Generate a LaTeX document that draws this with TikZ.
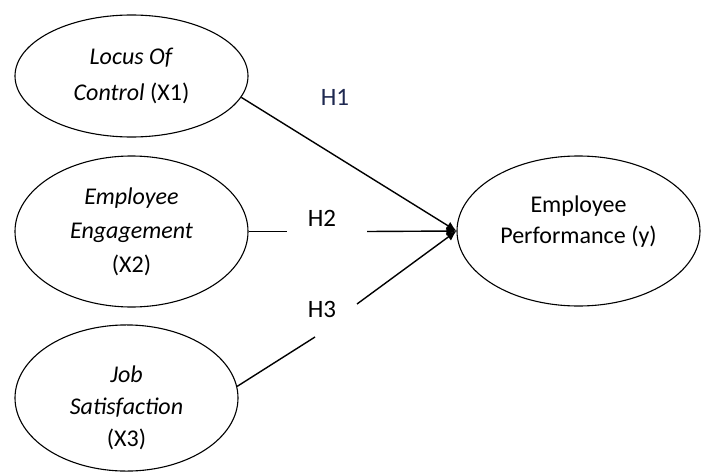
\documentclass[tikz,border=0pt]{standalone}
\usepackage{fontspec}
\setmainfont{Carlito}
\usetikzlibrary{arrows.meta,shapes.geometric}
\definecolor{hnavy}{RGB}{30,40,80}
\begin{document}
\begin{tikzpicture}[x=1pt,y=-1pt,
  latent/.style={ellipse, draw, line width=1.1pt, inner sep=0pt, align=center,
    font=\fontsize{24}{34}\selectfont},
  hlabel/.style={font=\fontsize{25}{28}\selectfont, inner sep=1pt},
  pathline/.style={line width=1.4pt},
  tip/.style={-{Latex[length=10pt,width=9pt]}}
]
\useasboundingbox (0,0) rectangle (701,471);
\node[latent, minimum width=233pt, minimum height=122pt,
  font=\fontsize{24}{36}\selectfont] (x1) at (131.5,76)
  {\textit{Locus Of}\\\textit{Control} (X1)};
\node[latent, minimum width=233pt, minimum height=151pt] (x2) at (131.5,231.5)
  {\textit{Employee}\\\textit{Engagement}\\(X2)};
\node[latent, minimum width=223pt, minimum height=140pt,
  font=\fontsize{24}{32}\selectfont, text height=100pt] (x3) at (126.5,398)
  {\textit{Job}\\\textit{Satisfaction}\\(X3)};
\node[latent, minimum width=243pt, minimum height=150pt,
  font=\fontsize{24}{31}\selectfont, text depth=22pt] (y) at (578.5,231)
  {Employee\\Performance (y)};

\coordinate (g2a) at (287,231.5);
\coordinate (g2b) at (367,231.5);
\coordinate (g3a) at (315,337);
\coordinate (g3b) at (357,304);

\draw[pathline, tip] (x1.-11) -- (y.west);
\draw[pathline] (x2.east) -- (g2a);
\draw[pathline, tip] (g2b) -- (y.west);
\draw[pathline] (x3.6) -- (g3a);
\draw[pathline, tip] (g3b) -- (y.west);

\node[hlabel, text=hnavy] (h1) at (335,97) {H1};
\node[hlabel] (h2) at (322,218) {H2};
\node[hlabel] (h3) at (322,309) {H3};
\end{tikzpicture}
\end{document}
